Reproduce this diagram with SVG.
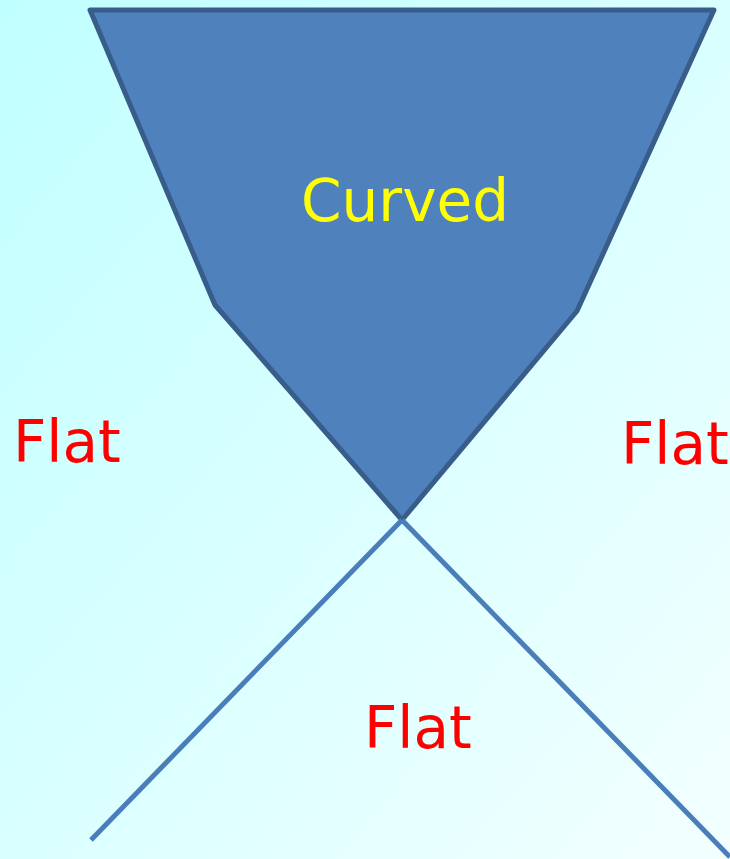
<svg xmlns="http://www.w3.org/2000/svg" width="730" height="859" viewBox="0 0 730 859">
<defs>
<linearGradient id="bg" x1="0" y1="0" x2="1" y2="1">
<stop offset="0" stop-color="#c0ffff"/>
<stop offset="1" stop-color="#f3ffff"/>
</linearGradient>
<style>
.lbl{font-family:"DejaVu Sans",Verdana,sans-serif;font-size:58px}
.flat{fill:#ff0000}
.line{stroke:#4a7ebb;stroke-width:5;fill:none}
</style>
</defs>
<rect width="730" height="859" fill="url(#bg)"/>
<g id="cone">
<polygon points="90,10 714,10 577,311 402,520 215,305" fill="#4f81bd" stroke="#385d8a" stroke-width="5" stroke-linejoin="round"/>
<text class="lbl" x="405" y="221" text-anchor="middle" fill="#ffff00">Curved</text>
</g>
<g id="connectors">
<line class="line" x1="402" y1="520" x2="91" y2="840"/>
<line class="line" x1="402" y1="520" x2="730" y2="857"/>
</g>
<g id="flat-left"><text class="lbl flat" x="13" y="462">Flat</text></g>
<g id="flat-right"><text class="lbl flat" x="621" y="464">Flat</text></g>
<g id="flat-bottom"><text class="lbl flat" x="364" y="748">Flat</text></g>
</svg>
